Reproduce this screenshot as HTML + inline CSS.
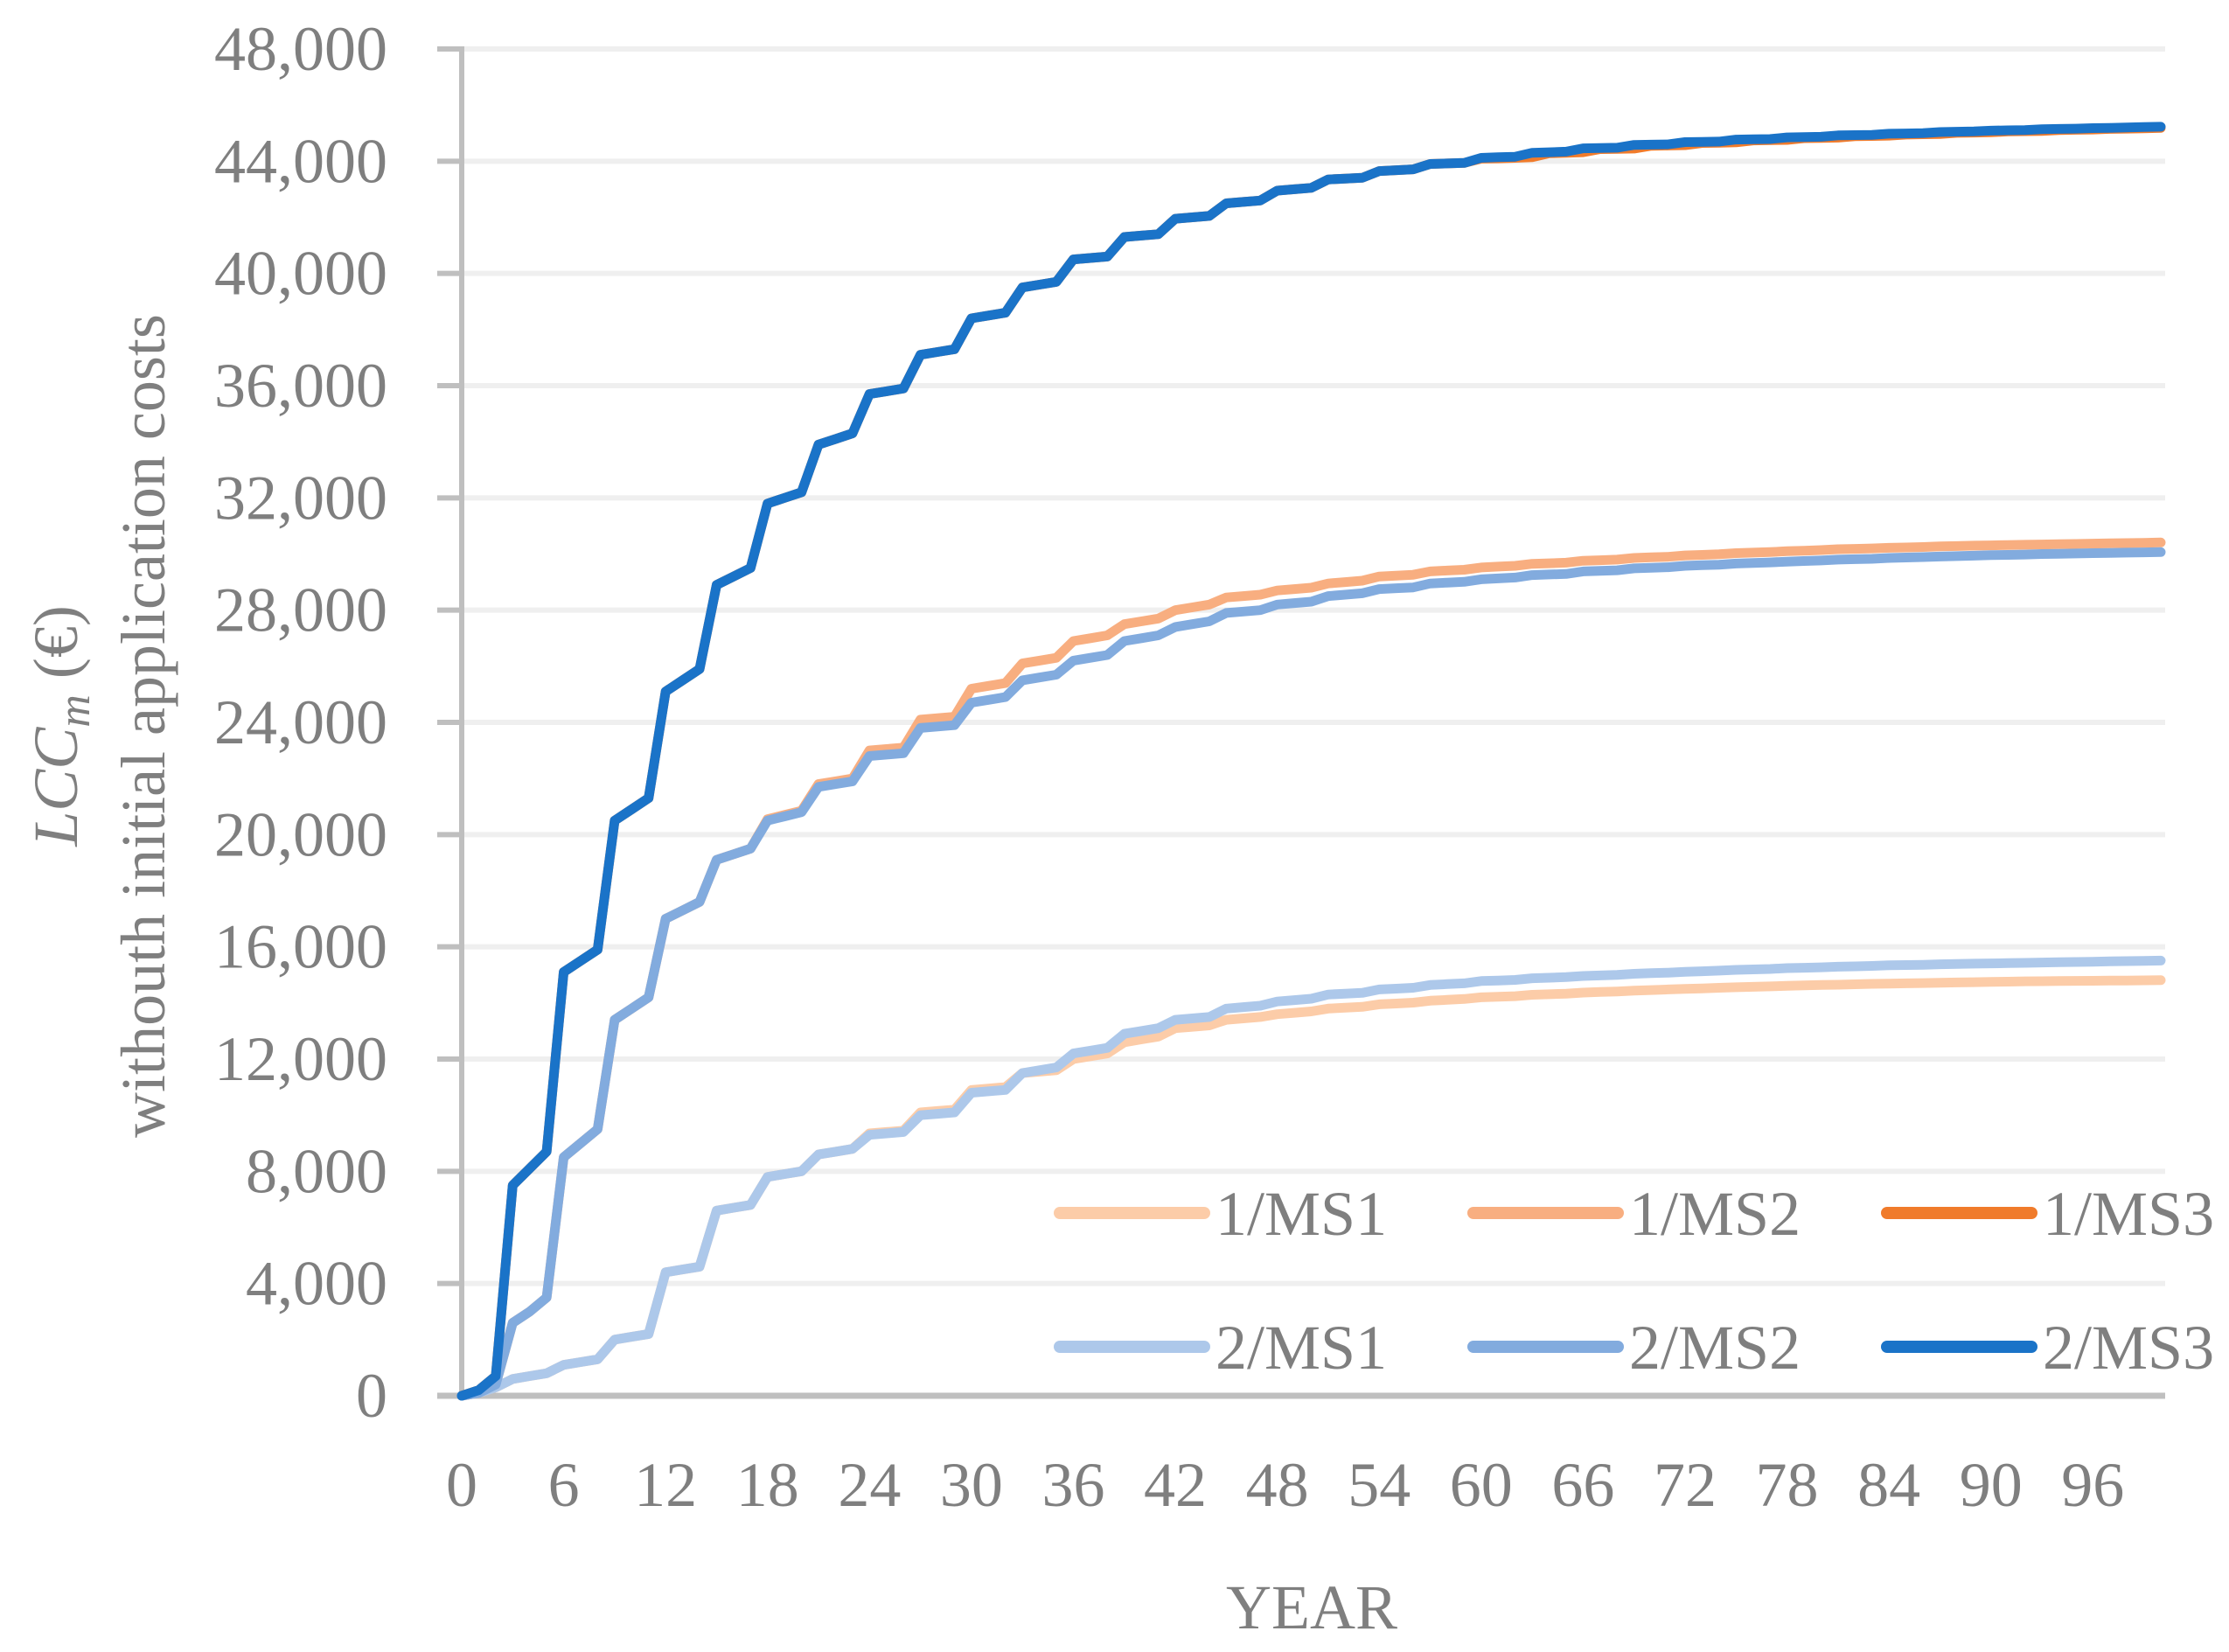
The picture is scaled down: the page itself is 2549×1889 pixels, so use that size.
<!DOCTYPE html>
<html><head><meta charset="utf-8"><style>
html,body{margin:0;padding:0;background:#fff}
svg{display:block;font-family:"Liberation Serif",serif}
</style></head><body>
<svg id="chart" width="2549" height="1889" viewBox="0 0 2549 1889" xmlns="http://www.w3.org/2000/svg">
<g id="grid"></g>
<g id="axes"></g>
<g id="series"></g>
<g id="legend"></g>
<text x="1500" y="1862" font-size="72" fill="#7f7f7f" text-anchor="middle">YEAR</text>
<text transform="translate(88,830) rotate(-90)" font-size="72" fill="#7f7f7f" text-anchor="middle"><tspan font-style="italic">LCC</tspan><tspan font-style="italic" font-size="52" dy="14">m</tspan><tspan dy="-14"> (€)</tspan></text>
<text transform="translate(188,830) rotate(-90)" font-size="72" fill="#7f7f7f" text-anchor="middle">withouth initial application costs</text>
</svg>
<script>
const yTicks=[0,4000,8000,12000,16000,20000,24000,28000,32000,36000,40000,44000,48000];
const xTicks=[0,6,12,18,24,30,36,42,48,54,60,66,72,78,84,90,96];
const seriesNames=["1/MS1","1/MS2","1/MS3","2/MS1","2/MS2","2/MS3"];
const seriesColors=["#FCCCA8","#F8AE80","#F07B2B","#ADC8EA","#82ABDE","#1A73C8"];
const s11=[0,100,300,600,700,800,1100,1200,1300,2000,2100,2200,4400,4500,4600,6600,6700,6800,7800,7900,8000,8600,8700,8800,9350,9400,9450,10100,10150,10200,10900,10950,11000,11500,11550,11600,12000,12100,12200,12600,12700,12800,13100,13150,13200,13400,13450,13500,13600,13650,13700,13800,13830,13860,13950,13980,14010,14080,14110,14140,14200,14220,14240,14290,14310,14330,14370,14390,14410,14440,14460,14480,14500,14520,14540,14560,14575,14590,14610,14625,14640,14650,14665,14680,14690,14700,14710,14720,14730,14740,14750,14760,14770,14775,14780,14785,14790,14795,14800,14805,14810];
const s12=[0,100,400,2600,3000,3500,8500,9000,9500,13400,13800,14200,17000,17300,17600,19100,19300,19500,20550,20700,20850,21800,21900,22000,23000,23050,23100,24100,24150,24200,25200,25300,25400,26100,26200,26300,26900,27000,27100,27500,27600,27700,28000,28100,28200,28450,28500,28550,28700,28750,28800,28950,29000,29050,29200,29230,29260,29380,29410,29440,29520,29550,29580,29650,29670,29690,29760,29780,29800,29860,29880,29900,29950,29970,29990,30030,30050,30070,30100,30120,30140,30170,30185,30200,30220,30235,30250,30270,30285,30300,30310,30320,30330,30340,30350,30360,30370,30380,30390,30400,30410];
const s13=[0,200,700,7500,8100,8700,15100,15500,15900,20500,20900,21300,25100,25500,25900,28900,29200,29500,31800,32000,32200,33900,34100,34300,35700,35800,35900,37100,37200,37300,38400,38500,38600,39500,39600,39700,40500,40550,40600,41300,41350,41400,41950,42000,42050,42500,42550,42600,42950,43000,43050,43350,43380,43410,43650,43680,43710,43900,43920,43940,44090,44100,44120,44140,44280,44300,44320,44430,44440,44450,44550,44560,44570,44650,44660,44670,44740,44750,44760,44820,44830,44840,44890,44900,44910,44950,44960,44970,45010,45020,45030,45060,45070,45080,45110,45120,45130,45150,45160,45170,45190];
const s21=[0,100,300,600,700,800,1100,1200,1300,2000,2100,2200,4400,4500,4600,6600,6700,6800,7800,7900,8000,8600,8700,8800,9300,9350,9400,10000,10050,10100,10800,10850,10900,11500,11600,11700,12200,12300,12400,12900,13000,13100,13400,13450,13500,13800,13850,13900,14050,14100,14150,14300,14330,14360,14480,14510,14540,14640,14670,14700,14780,14800,14820,14880,14900,14920,14960,14980,15000,15040,15060,15080,15110,15130,15150,15180,15195,15210,15240,15255,15270,15290,15305,15320,15340,15350,15360,15380,15390,15400,15410,15420,15430,15440,15450,15460,15470,15480,15490,15500,15510];
const s22=[0,100,400,2600,3000,3500,8500,9000,9500,13400,13800,14200,17000,17300,17600,19100,19300,19500,20500,20650,20800,21700,21800,21900,22800,22850,22900,23800,23850,23900,24700,24800,24900,25500,25600,25700,26200,26300,26400,26900,27000,27100,27400,27500,27600,27900,27950,28000,28200,28250,28300,28500,28550,28600,28750,28780,28810,28950,28980,29010,29100,29130,29160,29250,29270,29290,29380,29400,29420,29490,29510,29530,29580,29600,29620,29660,29680,29700,29730,29750,29770,29800,29815,29830,29860,29875,29890,29910,29925,29940,29960,29970,29980,30000,30010,30020,30030,30040,30050,30060,30070];
const s23=[0,200,700,7500,8100,8700,15100,15500,15900,20500,20900,21300,25100,25500,25900,28900,29200,29500,31800,32000,32200,33900,34100,34300,35700,35800,35900,37100,37200,37300,38400,38500,38600,39500,39600,39700,40500,40550,40600,41300,41350,41400,41950,42000,42050,42500,42550,42600,42950,43000,43050,43350,43380,43410,43650,43680,43710,43900,43920,43940,44120,44140,44160,44300,44320,44340,44460,44470,44480,44580,44590,44600,44680,44690,44700,44770,44780,44790,44850,44860,44870,44920,44930,44940,44980,44990,45000,45040,45050,45060,45090,45100,45110,45140,45150,45160,45180,45190,45200,45220,45230];
const seriesData=[s11,s12,s13,s21,s22,s23];

const NS="http://www.w3.org/2000/svg";
const X0=528,XPER=19.43,XEND=2476,Y0=1596,YTOP=56,YMAX=48000;
function xScale(v){return X0+v*XPER;}
function yScale(v){return Y0-(v/YMAX)*(Y0-YTOP);}
function mk(tag,attrs,parent){const e=document.createElementNS(NS,tag);for(const k in attrs)e.setAttribute(k,attrs[k]);parent.appendChild(e);return e;}

const grid=document.getElementById('grid'),axes=document.getElementById('axes'),series=document.getElementById('series'),legend=document.getElementById('legend');
yTicks.forEach(t=>{
  const y=yScale(t);
  if(t>0){const g=mk('line',{x1:X0,x2:XEND,y1:y,y2:y,stroke:'#EFEFEF','stroke-width':6},grid);
  
  }
  const tk=mk('line',{x1:500,x2:X0,y1:y,y2:y,stroke:'#BFBFBF','stroke-width':6},axes);
  
  
  const lb=mk('text',{x:443,y:y+24,'font-size':72,fill:'#7f7f7f','text-anchor':'end'},axes);
  
  
  lb.textContent=t.toLocaleString('en-US');
});
const ya=mk('line',{x1:X0,x2:X0,y1:YTOP-3,y2:Y0,stroke:'#BFBFBF','stroke-width':6},axes);


const xa=mk('line',{x1:500,x2:XEND,y1:Y0,y2:Y0,stroke:'#BFBFBF','stroke-width':7},axes);


xTicks.forEach(t=>{
  const lb=mk('text',{x:xScale(t),y:1722,'font-size':72,fill:'#7f7f7f','text-anchor':'middle'},axes);
  
  
  lb.textContent=String(t);
});
seriesData.forEach((d,i)=>{
  const pts=d.map((v,k)=>xScale(k).toFixed(1)+','+yScale(v).toFixed(1)).join(' ');
  const pl=mk('polyline',{points:pts,fill:'none',stroke:seriesColors[i],'stroke-width':11,'stroke-linejoin':'round','stroke-linecap':'round'},series);
  
  
});
const legX=[1212,1685,2158],legY=[1387,1540];
seriesNames.forEach((n,i)=>{
  const r=Math.floor(i/3),c=i%3,x=legX[c],y=legY[r];
  const g=mk('g',{},legend);
  
  
  mk('line',{x1:x,x2:x+165,y1:y,y2:y,stroke:seriesColors[i],'stroke-width':14,'stroke-linecap':'round'},g);
  const t=mk('text',{x:x+178,y:y+25,'font-size':72,fill:'#7f7f7f'},g);
  t.textContent=n;
});
</script>
</body></html>
